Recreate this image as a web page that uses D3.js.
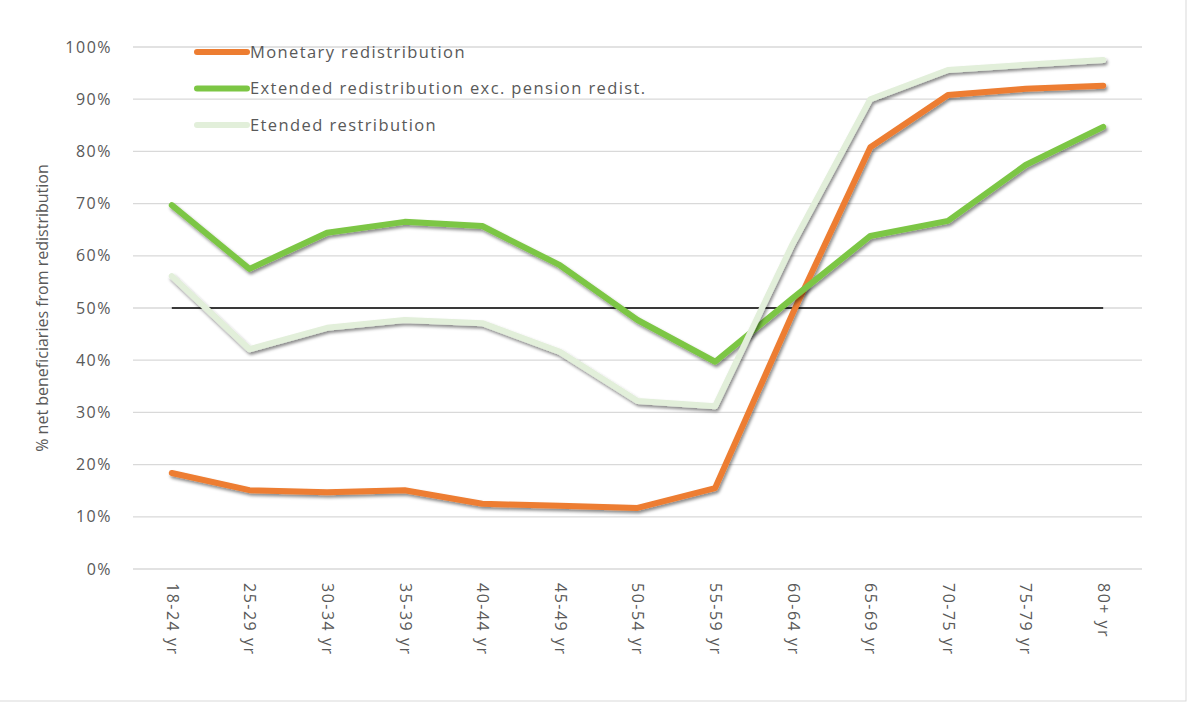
<!DOCTYPE html>
<meta charset="utf-8">
<script src="https://cdn.jsdelivr.net/npm/d3@7"></script>
<style>
body { margin: 0; background: #fff; }
.axis text { fill: #595959; font-family: "Open Sans", sans-serif; font-size: 16px; letter-spacing: 1.5px; }
.grid line { stroke: #d9d9d9; stroke-width: 1.3; }
.legend text { fill: #595959; font-family: "Open Sans", sans-serif; font-size: 16.5px; letter-spacing: 1.4px; }
</style>
<body>
<div id="chart"></div>
<script>
// ---------- data ----------
const ageGroups = ["18-24 yr", "25-29 yr", "30-34 yr", "35-39 yr", "40-44 yr", "45-49 yr", "50-54 yr",
                   "55-59 yr", "60-64 yr", "65-69 yr", "70-75 yr", "75-79 yr", "80+ yr"];
const monetary = [18.4, 15.1, 14.7, 15.1, 12.5, 12.1, 11.7, 15.5, 49.0, 80.8, 90.8, 92.0, 92.6];
const extendedExcPension = [69.7, 57.5, 64.4, 66.5, 65.7, 58.2, 47.7, 39.7, 51.9, 63.8, 66.7, 77.4, 84.7];
const extended = [56.1, 42.1, 46.2, 47.7, 47.1, 41.6, 32.2, 31.2, 62.3, 90.0, 95.6, 96.6, 97.5];
const yTicks = [0, 10, 20, 30, 40, 50, 60, 70, 80, 90, 100];
const threshold = 50;

const series = [
  { name: "Monetary redistribution", values: monetary, color: "#ed7d31" },
  { name: "Extended redistribution exc. pension redist.", values: extendedExcPension, color: "#7cc644" },
  { name: "Etended restribution", values: extended, color: "#e2efda" }
];

// ---------- svg ----------
const W = 1189, H = 702;
const svg = d3.select("#chart").append("svg")
    .attr("width", W).attr("height", H);

const defs = svg.append("defs");
const f = defs.append("filter").attr("id", "shadow")
    .attr("x", "-10%").attr("y", "-10%").attr("width", "120%").attr("height", "130%");
f.append("feDropShadow").attr("dx", 1.5).attr("dy", 2.5).attr("stdDeviation", 1.6)
    .attr("flood-color", "#000").attr("flood-opacity", 0.45);

// outer border
svg.append("rect").attr("x", -2).attr("y", -2).attr("width", 1188).attr("height", 703)
    .attr("fill", "none").attr("stroke", "#d9d9d9").attr("stroke-width", 1);

const plotL = 133, plotR = 1142, plotT = 47, plotB = 569;

const x = d3.scalePoint().domain(ageGroups).range([plotL, plotR]).padding(0.5);
const y = d3.scaleLinear().domain([0, 100]).range([plotB, plotT]);

// gridlines
svg.append("g").attr("class", "grid")
  .selectAll("line").data(yTicks).join("line")
    .attr("x1", plotL).attr("x2", plotR)
    .attr("y1", d => y(d)).attr("y2", d => y(d));

// y axis labels
const yAxis = d3.axisLeft(y).tickValues(yTicks).tickFormat(d => d + "%").tickSize(0).tickPadding(21);
svg.append("g").attr("class", "axis").attr("transform", `translate(${plotL},0)`)
  .call(yAxis)
  .call(g => g.select(".domain").remove());

// x axis labels (rotated)
const xAxis = d3.axisBottom(x).tickSize(0);
svg.append("g").attr("class", "axis").attr("transform", `translate(0,${plotB})`)
  .call(xAxis)
  .call(g => g.select(".domain").remove())
  .selectAll("text")
    .attr("transform", "rotate(90)")
    .attr("x", 14).attr("y", 0).attr("dy", "0.35em")
    .style("text-anchor", "start");

// y axis title
svg.append("text")
    .attr("transform", `translate(48,${(plotT + plotB) / 2}) rotate(-90)`)
    .attr("text-anchor", "middle")
    .style("font-family", "Open Sans, sans-serif").style("font-size", "16px").style("fill", "#595959")
    .text("% net beneficiaries from redistribution");

// 50% reference line
svg.append("line")
    .attr("x1", x(ageGroups[0])).attr("x2", x(ageGroups[ageGroups.length - 1]))
    .attr("y1", y(threshold)).attr("y2", y(threshold))
    .attr("stroke", "#000").attr("stroke-width", 1.5);

// lines
const line = d3.line()
    .x((d, i) => x(ageGroups[i]))
    .y(d => y(d));

svg.append("g").selectAll("path").data(series).join("path")
    .attr("d", d => line(d.values))
    .attr("fill", "none")
    .attr("stroke", d => d.color)
    .attr("stroke-width", 6)
    .attr("stroke-linejoin", "round")
    .attr("stroke-linecap", "round")
    .attr("filter", "url(#shadow)");

// legend
const legend = svg.append("g").attr("class", "legend")
  .selectAll("g").data(series).join("g")
    .attr("transform", (d, i) => `translate(197,${52 + i * 36.5})`);
legend.append("line")
    .attr("x1", 0).attr("x2", 50)
    .attr("stroke", d => d.color).attr("stroke-width", 6).attr("stroke-linecap", "round");
legend.append("text")
    .attr("x", 53).attr("dy", "0.35em")
    .text(d => d.name);
</script>
</body>
